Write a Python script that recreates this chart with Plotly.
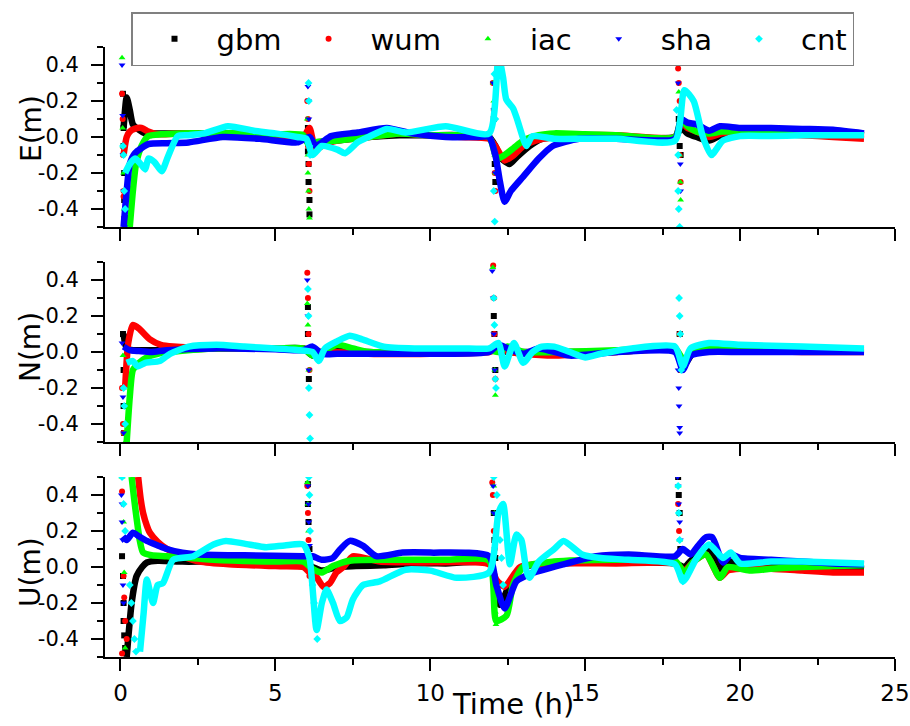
import plotly.graph_objects as go

# ---------------- data ----------------
series_names = ["gbm", "wum", "iac", "sha", "cnt"]
series_colors = ["#000000", "#ff0000", "#00ff00", "#0000ff", "#00ffff"]
series_symbols = ["square", "circle", "triangle-up", "triangle-down", "diamond"]
panel_titles = ["E(m)", "N(m)", "U(m)"]
x_label = "Time (h)"
y_tick_vals = [-0.4, -0.2, 0.0, 0.2, 0.4]
y_tick_text = ["-0.4", "-0.2", "0.0", "0.2", "0.4"]
x_tick_vals = [0, 5, 10, 15, 20, 25]
x_tick_text = ["0", "5", "10", "15", "20", "25"]

# ---- E panel: smooth tracks ----
E_gbm_x = [0.1, 0.2, 0.3, 0.4, 0.6, 0.8, 1.2, 2, 3, 4, 5, 5.9, 6.1, 6.3, 7, 8, 9, 10, 11, 11.9, 12.1, 12.3, 12.56, 12.8, 13.2, 13.6, 14.5, 16, 17.9, 18.1, 18.3, 18.6, 19.0, 19.4, 20, 21, 22, 23, 24]
E_gbm_y = [0.05, 0.22, 0.15, 0.07, 0.04, 0.02, 0.02, 0.02, 0.02, 0.01, 0.01, 0.0, -0.04, -0.03, -0.02, 0.0, 0.01, 0.01, 0.01, 0.0, -0.05, -0.12, -0.15, -0.11, -0.05, -0.01, 0.0, 0.0, 0.0, 0.05, 0.02, 0.0, -0.02, 0.01, 0.02, 0.03, 0.02, 0.02, 0.01]
E_wum_x = [0.1, 0.2, 0.3, 0.45, 0.68, 0.9, 1.2, 2, 3, 4, 5, 5.9, 6.1, 6.3, 6.6, 7, 8, 9, 10, 11, 11.9, 12.1, 12.4, 12.7, 13.0, 13.4, 14, 15, 16, 17.9, 18.1, 18.3, 18.6, 19.0, 19.4, 20, 21, 22, 23, 24]
E_wum_y = [-0.1, 0.0, 0.03, 0.045, 0.05, 0.03, 0.015, 0.02, 0.02, 0.02, 0.01, 0.0, 0.05, -0.07, -0.04, -0.02, 0.0, 0.02, 0.01, 0.0, -0.01, -0.05, -0.13, -0.1, -0.05, -0.02, 0.0, 0.01, 0.01, 0.0, 0.08, 0.05, 0.03, 0.0, 0.02, 0.03, 0.02, 0.01, 0.0, -0.01]
E_iac_x = [0.3, 0.4, 0.5, 0.68, 0.9, 1.3, 2, 3, 4, 5, 5.9, 6.1, 6.3, 7, 8, 9, 10, 11, 11.9, 12.15, 12.4, 12.7, 13.0, 13.5, 14, 15, 16, 17.9, 18.1, 18.3, 18.6, 19.0, 19.4, 20, 21, 22, 23, 24]
E_iac_y = [-0.5, -0.3, -0.15, -0.05, 0.005, 0.015, 0.02, 0.02, 0.02, 0.015, 0.01, -0.05, -0.03, -0.02, 0.0, 0.02, 0.01, 0.01, 0.0, -0.12, -0.1, -0.06, -0.02, 0.01, 0.02, 0.015, 0.01, 0.0, 0.1, 0.06, 0.03, 0.02, 0.03, 0.03, 0.03, 0.025, 0.02, 0.02]
E_sha_x = [0.1, 0.2, 0.3, 0.47, 0.9, 1.5, 2.2, 3.3, 4.5, 5.7, 6.1, 6.3, 6.5, 6.8, 7.65, 8.6, 9.4, 10.5, 11.5, 11.9, 12.1, 12.25, 12.4, 12.6, 13.0, 13.5, 13.95, 14.8, 16, 17.9, 18.1, 18.3, 18.6, 19.0, 19.35, 20, 21, 22, 23, 24]
E_sha_y = [-0.5, -0.3, -0.15, -0.09, -0.04, -0.035, -0.03, 0.0, -0.01, -0.03, 0.0, -0.05, -0.03, 0.005, 0.025, 0.05, 0.02, 0.0, 0.0, 0.0, -0.1, -0.25, -0.36, -0.3, -0.22, -0.12, -0.05, -0.01, -0.01, -0.01, 0.1, 0.08, 0.07, 0.035, 0.06, 0.05, 0.05, 0.045, 0.04, 0.02]
E_cnt_x = [0.15, 0.3, 0.47, 0.65, 0.8, 0.9, 1.1, 1.33, 1.53, 1.85, 2.2, 2.7, 3.47, 4.3, 5.0, 5.7, 6.0, 6.2, 6.5, 7.0, 7.25, 7.65, 8.0, 8.6, 9.2, 10.5, 11.9, 12.2, 12.35, 12.45, 12.67, 12.8, 13.0, 13.1, 13.3, 14, 15, 16, 17.9, 18.2, 18.5, 18.8, 19.07, 19.45, 20, 21, 22, 23, 24]
E_cnt_y = [-0.2, -0.15, -0.12, -0.15, -0.18, -0.12, -0.14, -0.19, -0.11, 0.005, 0.01, 0.02, 0.06, 0.035, 0.02, 0.0, -0.01, -0.1, -0.05, -0.07, -0.09, -0.03, 0.0, 0.045, 0.025, 0.06, 0.02, 0.45, 0.33, 0.21, 0.16, 0.1, -0.01, -0.05, 0.005, -0.01, -0.01, -0.01, -0.02, 0.26, 0.2, 0.0, -0.1, -0.02, 0.005, 0.005, 0.01, 0.01, 0.01]

# ---- E panel: re-initialisation scatter ----
E_gbm_sx = [0.08, 0.1, 0.1, 0.12, 0.12, 0.15, 6.05, 6.05, 6.07, 6.07, 6.1, 6.1, 12.05, 12.05, 12.08, 12.1, 18.02, 18.05, 18.05, 18.08]
E_gbm_sy = [0.24, 0.05, -0.05, -0.2, -0.35, -0.45, 0.05, -0.08, -0.15, -0.25, -0.35, -0.43, 0.1, -0.05, -0.15, -0.25, 0.1, 0.05, -0.05, -0.1]
E_wum_sx = [0.05, 0.07, 0.08, 0.1, 0.1, 0.12, 6.03, 6.05, 6.05, 6.08, 6.1, 12.02, 12.05, 12.05, 12.08, 12.1, 18.0, 18.02, 18.05, 18.05, 18.08]
E_wum_sy = [0.24, 0.1, -0.1, -0.3, -0.33, -0.45, 0.2, 0.1, -0.05, -0.15, -0.3, 0.3, 0.15, -0.05, -0.2, -0.3, 0.38, 0.3, 0.2, -0.1, -0.25]
E_iac_sx = [0.05, 0.07, 0.08, 0.1, 0.12, 6.03, 6.05, 6.05, 6.07, 6.08, 6.1, 12.03, 12.05, 12.08, 12.1, 18.02, 18.03, 18.05, 18.07, 18.08]
E_iac_sy = [0.44, 0.05, -0.05, -0.2, -0.4, 0.1, -0.1, -0.2, -0.3, -0.4, -0.45, 0.3, 0.2, -0.1, -0.2, 0.25, 0.15, -0.1, -0.25, -0.35]
E_sha_sx = [0.05, 0.07, 0.08, 0.1, 0.12, 0.14, 6.05, 6.07, 6.08, 6.1, 12.0, 12.03, 12.05, 12.08, 12.1, 18.0, 18.03, 18.05, 18.07, 18.08]
E_sha_sy = [0.4, 0.12, -0.1, -0.3, -0.45, -0.5, 0.28, 0.2, 0.1, 0.0, 0.42, 0.3, 0.15, -0.1, -0.2, 0.3, 0.15, 0.05, -0.15, -0.3]
E_cnt_sx = [0.08, 0.1, 0.12, 0.15, 6.05, 6.07, 6.08, 6.1, 6.12, 12.05, 12.07, 12.1, 12.05, 12.08, 17.95, 18.0, 18.0, 18.02, 18.05]
E_cnt_sy = [-0.05, -0.1, -0.3, -0.4, 0.45, 0.3, 0.2, -0.05, -0.1, 0.45, 0.35, 0.1, -0.3, -0.47, 0.15, -0.1, -0.3, -0.4, -0.5]

# ---- N panel: smooth tracks ----
N_gbm_x = [0.1, 0.2, 0.4, 0.8, 1.5, 3, 5, 5.9, 6.2, 6.5, 7, 8, 10, 11.9, 12.2, 12.5, 13, 14, 16, 17.9, 18.2, 18.5, 19, 20, 22, 24]
N_gbm_y = [0.1, 0.02, 0.01, 0.01, 0.01, 0.02, 0.02, 0.02, -0.02, 0.0, 0.01, 0.0, 0.0, 0.01, 0.02, 0.0, 0.0, 0.0, 0.0, 0.01, -0.07, 0.0, 0.01, 0.01, 0.01, 0.01]
N_wum_x = [0.15, 0.25, 0.4, 0.6, 0.95, 1.3, 1.7, 3, 5, 5.9, 6.2, 6.5, 7, 8, 10, 11.9, 12.2, 12.6, 13, 14, 16, 17.9, 18.2, 18.5, 19, 20, 22, 24]
N_wum_y = [-0.2, 0.05, 0.15, 0.13, 0.07, 0.04, 0.03, 0.02, 0.02, 0.02, 0.01, 0.0, 0.0, -0.01, -0.01, 0.0, 0.02, 0.0, -0.01, -0.02, 0.0, 0.01, -0.05, 0.01, 0.02, 0.01, 0.0, 0.0]
N_iac_x = [0.2, 0.3, 0.4, 0.6, 0.85, 1.2, 1.6, 3, 5, 5.9, 6.2, 6.5, 7, 7.5, 8, 10, 11.9, 12.2, 12.5, 13, 14, 16, 17.9, 18.2, 18.5, 19, 20, 22, 24]
N_iac_y = [-0.5, -0.25, -0.1, -0.06, -0.03, -0.01, 0.0, 0.02, 0.02, 0.02, -0.02, 0.0, 0.04, 0.02, 0.0, 0.01, 0.01, 0.0, 0.03, 0.0, 0.0, 0.01, 0.02, -0.05, 0.02, 0.02, 0.02, 0.01, 0.01]
N_sha_x = [0.1, 0.3, 0.6, 1, 1.5, 3, 5, 5.9, 6.2, 6.5, 7, 8, 10, 11.9, 12.2, 12.5, 13, 13.5, 14.5, 16, 17.9, 18.15, 18.4, 19, 20, 22, 24]
N_sha_y = [0.03, 0.01, 0.005, 0.0, 0.01, 0.02, 0.015, 0.01, 0.03, -0.01, -0.01, -0.01, -0.01, 0.0, 0.04, 0.02, -0.01, 0.02, -0.02, 0.0, 0.0, -0.1, -0.02, 0.0, 0.0, 0.0, 0.0]
N_cnt_x = [0.2, 0.4, 0.55, 0.8, 1.27, 1.6, 2.2, 3.1, 4, 5, 5.8, 6.2, 6.4, 6.6, 7.0, 7.4, 7.8, 8.5, 9.5, 11, 11.9, 12.2, 12.4, 12.7, 13.0, 13.3, 13.6, 14, 14.5, 15.0, 15.5, 16.5, 17.9, 18.15, 18.4, 19.0, 20, 22, 24]
N_cnt_y = [-0.06, -0.05, -0.08, -0.06, -0.05, -0.01, 0.03, 0.04, 0.03, 0.02, 0.01, 0.0, -0.05, 0.02, 0.06, 0.09, 0.07, 0.03, 0.02, 0.02, 0.02, 0.05, -0.08, 0.05, -0.06, 0.0, 0.03, 0.03, 0.0, -0.03, -0.01, 0.02, 0.03, -0.08, 0.02, 0.05, 0.04, 0.03, 0.02]

# ---- N panel: re-initialisation scatter ----
N_gbm_sx = [0.08, 0.1, 0.1, 0.12, 6.05, 6.05, 6.08, 12.05, 12.07, 12.1, 18.05, 18.07, 18.1]
N_gbm_sy = [0.1, -0.1, -0.3, -0.45, 0.25, 0.1, -0.15, 0.2, 0.1, -0.1, 0.1, -0.05, -0.1]
N_wum_sx = [0.05, 0.08, 0.1, 6.03, 6.05, 6.07, 6.1, 12.03, 12.05, 12.07, 12.1, 18.05, 18.08]
N_wum_sy = [-0.2, -0.4, -0.45, 0.44, 0.3, 0.1, -0.1, 0.48, 0.3, 0.1, -0.15, 0.1, -0.1]
N_iac_sx = [0.08, 0.1, 0.12, 0.15, 6.03, 6.05, 6.08, 12.02, 12.05, 12.08, 12.1, 18.05, 18.08]
N_iac_sy = [-0.02, -0.2, -0.45, -0.5, 0.27, 0.15, -0.1, 0.47, 0.3, -0.1, -0.24, 0.1, -0.05]
N_sha_sx = [0.05, 0.08, 0.1, 6.03, 6.05, 6.08, 12.0, 12.03, 12.05, 12.08, 18.0, 18.02, 18.03, 18.05, 18.05]
N_sha_sy = [0.05, -0.25, -0.45, 0.4, 0.2, -0.1, 0.45, 0.3, 0.1, -0.1, -0.1, -0.2, -0.3, -0.42, -0.45]
N_cnt_sx = [0.1, 0.12, 0.15, 6.05, 6.07, 6.08, 6.1, 6.12, 12.05, 12.07, 12.1, 12.12, 18.03, 18.05, 18.07, 18.1]
N_cnt_sy = [-0.2, -0.3, -0.4, 0.35, 0.2, -0.2, -0.35, -0.48, 0.3, 0.15, -0.15, -0.2, 0.3, 0.2, 0.1, -0.1]

# ---- U panel: smooth tracks ----
U_gbm_x = [0.2, 0.36, 0.52, 0.7, 0.85, 1.2, 2, 3, 4, 5, 5.9, 6.2, 6.5, 7, 7.6, 8.5, 9.5, 10.5, 11.9, 12.1, 12.24, 12.56, 13.0, 14, 15, 16, 17.9, 18.2, 18.5, 19.0, 19.35, 19.6, 20, 21, 22, 23, 24]
U_gbm_y = [-0.5, -0.2, -0.05, 0.0, 0.025, 0.035, 0.03, 0.03, 0.025, 0.02, 0.02, 0.0, -0.02, 0.0, 0.005, 0.01, 0.02, 0.02, 0.02, -0.1, -0.21, -0.1, 0.0, 0.02, 0.025, 0.025, 0.02, 0.0, 0.05, 0.1, -0.01, 0.03, 0.02, 0.01, 0.005, 0.0, -0.01]
U_wum_x = [0.57, 0.65, 0.73, 0.85, 0.95, 1.2, 1.5, 2, 2.56, 3.5, 5, 5.9, 6.1, 6.3, 6.55, 6.76, 6.97, 7.2, 7.5, 8.37, 9.6, 11.9, 12.13, 12.4, 12.9, 14, 16, 17.9, 18.2, 18.5, 18.9, 19.35, 19.6, 20, 21, 22, 23, 24]
U_wum_y = [0.5, 0.38, 0.3, 0.23, 0.19, 0.14, 0.1, 0.06, 0.03, 0.015, 0.005, 0.0, -0.03, -0.05, -0.11, -0.09, -0.03, 0.0, 0.06, 0.03, 0.025, 0.015, -0.07, -0.11, 0.0, 0.02, 0.02, 0.02, -0.02, 0.03, 0.07, -0.06, -0.02, -0.01, -0.01, -0.02, -0.03, -0.03]
U_iac_x = [0.36, 0.44, 0.52, 0.62, 0.73, 1.0, 1.5, 3, 5, 5.9, 6.2, 6.5, 6.86, 7.4, 9, 10.5, 11.9, 12.13, 12.46, 12.67, 13.0, 14, 16, 17.9, 18.2, 18.5, 18.9, 19.35, 19.6, 20.3, 21, 22, 23, 24]
U_iac_y = [0.5, 0.38, 0.27, 0.15, 0.08, 0.065, 0.06, 0.04, 0.03, 0.03, -0.01, -0.03, 0.005, 0.035, 0.04, 0.04, 0.035, -0.3, -0.27, -0.1, 0.0, 0.03, 0.04, 0.035, -0.03, 0.03, 0.07, -0.06, 0.0, -0.02, -0.01, 0.0, 0.005, 0.01]
U_sha_x = [0.08, 0.2, 0.4, 0.6, 0.85, 1.2, 1.5, 2, 2.56, 4, 5.9, 6.2, 6.5, 6.85, 7.1, 7.4, 7.83, 8.26, 9.1, 10, 11.9, 12.13, 12.4, 12.78, 13.2, 14.3, 15.36, 16.4, 17.9, 18.15, 18.4, 18.7, 18.9, 19.1, 19.45, 19.7, 20, 21, 22, 23, 24]
U_sha_y = [0.17, 0.15, 0.19, 0.17, 0.145, 0.12, 0.1, 0.08, 0.07, 0.065, 0.06, 0.06, 0.04, 0.05, 0.1, 0.145, 0.117, 0.06, 0.08, 0.08, 0.06, -0.1, -0.23, -0.08, -0.04, 0.015, 0.06, 0.07, 0.06, 0.1, 0.07, 0.13, 0.165, 0.165, 0.025, 0.07, 0.05, 0.04, 0.03, 0.02, 0.015]
U_cnt_x = [0.63, 0.75, 0.85, 1.05, 1.2, 1.37, 1.7, 2.35, 3.0, 3.4, 4.0, 4.7, 5.3, 5.9, 6.1, 6.33, 6.5, 6.65, 6.86, 7.08, 7.3, 7.5, 7.83, 8.37, 9.2, 10.0, 10.85, 11.9, 12.2, 12.35, 12.57, 12.78, 12.94, 13.1, 13.2, 13.5, 14.0, 14.3, 14.9, 15.5, 16.4, 17.9, 18.15, 18.26, 18.6, 19.0, 19.45, 19.7, 20.0, 21, 22, 23, 24]
U_cnt_y = [-0.47, -0.25, -0.07, -0.2, -0.1, -0.09, 0.04, 0.06, 0.125, 0.145, 0.13, 0.11, 0.12, 0.125, 0.05, -0.35, -0.2, -0.125, -0.2, -0.3, -0.28, -0.18, -0.1, -0.08, -0.015, -0.02, -0.06, -0.03, 0.3, 0.35, 0.015, 0.18, 0.15, -0.02, -0.06, 0.03, 0.1, 0.145, 0.07, 0.05, 0.04, 0.015, -0.08, -0.06, 0.05, 0.125, 0.05, 0.08, 0.02, 0.03, 0.03, 0.025, 0.02]

# ---- U panel: re-initialisation scatter ----
U_gbm_sx = [0.05, 0.08, 0.1, 0.1, 0.12, 0.15, 6.05, 6.05, 6.07, 6.1, 12.05, 12.07, 12.1, 18.0, 18.02, 18.05, 18.07]
U_gbm_sy = [0.06, -0.05, -0.2, -0.3, -0.38, -0.45, 0.46, 0.35, 0.25, 0.1, 0.3, 0.15, 0.05, 0.5, 0.4, 0.3, 0.1]
U_wum_sx = [0.05, 0.1, 0.12, 0.15, 0.2, 0.05, 6.03, 6.05, 6.07, 6.1, 12.0, 12.02, 12.05, 12.08, 18.0, 18.03, 18.05]
U_wum_sy = [0.42, -0.05, -0.17, -0.3, -0.4, -0.48, 0.45, 0.3, 0.15, -0.05, 0.47, 0.4, 0.2, 0.1, 0.35, 0.2, 0.0]
U_iac_sx = [0.05, 0.1, 0.12, 0.15, 6.03, 6.05, 6.07, 6.1, 12.05, 12.07, 12.1, 12.1, 12.12, 18.0, 18.03, 18.05, 18.08]
U_iac_sy = [0.5, 0.25, -0.03, -0.45, 0.47, 0.35, 0.2, 0.05, 0.45, 0.3, 0.15, -0.25, -0.32, 0.45, 0.3, 0.15, 0.0]
U_sha_sx = [0.03, 0.05, 0.05, 0.07, 0.08, 0.1, 6.05, 6.07, 6.08, 6.1, 12.03, 12.05, 12.08, 17.98, 18.0, 18.02, 18.05, 18.07]
U_sha_sy = [0.4, 0.35, 0.25, 0.15, -0.1, -0.2, 0.45, 0.35, 0.25, 0.12, 0.45, 0.3, 0.1, 0.5, 0.45, 0.35, 0.25, 0.15]
U_cnt_sx = [0.05, 0.1, 0.15, 0.3, 0.35, 0.4, 0.45, 0.5, 6.08, 6.1, 6.12, 6.2, 6.25, 6.3, 6.35, 12.05, 12.15, 12.2, 12.25, 12.3, 12.35, 18.0, 18.02, 18.05, 18.1, 18.15]
U_cnt_sy = [0.5, 0.35, 0.2, -0.1, -0.2, -0.3, -0.4, -0.47, 0.5, 0.4, 0.2, -0.1, -0.2, -0.3, -0.4, 0.5, 0.4, 0.3, 0.15, 0.05, -0.1, 0.45, 0.3, 0.15, -0.05, -0.08]

tracks = [
    [(E_gbm_x, E_gbm_y), (E_wum_x, E_wum_y), (E_iac_x, E_iac_y), (E_sha_x, E_sha_y), (E_cnt_x, E_cnt_y)],
    [(N_gbm_x, N_gbm_y), (N_wum_x, N_wum_y), (N_iac_x, N_iac_y), (N_sha_x, N_sha_y), (N_cnt_x, N_cnt_y)],
    [(U_gbm_x, U_gbm_y), (U_wum_x, U_wum_y), (U_iac_x, U_iac_y), (U_sha_x, U_sha_y), (U_cnt_x, U_cnt_y)],
]
spikes = [
    [(E_gbm_sx, E_gbm_sy), (E_wum_sx, E_wum_sy), (E_iac_sx, E_iac_sy), (E_sha_sx, E_sha_sy), (E_cnt_sx, E_cnt_sy)],
    [(N_gbm_sx, N_gbm_sy), (N_wum_sx, N_wum_sy), (N_iac_sx, N_iac_sy), (N_sha_sx, N_sha_sy), (N_cnt_sx, N_cnt_sy)],
    [(U_gbm_sx, U_gbm_sy), (U_wum_sx, U_wum_sy), (U_iac_sx, U_iac_sy), (U_sha_sx, U_sha_sy), (U_cnt_sx, U_cnt_sy)],
]

# ---------------- figure ----------------
FONT = "DejaVu Sans"
W, H = 910, 726
ML, MR, MT, MB = 105, 15, 47, 69
plot_h = H - MT - MB
plot_w = W - ML - MR
domains = [[430 / plot_h, 1.0], [215 / plot_h, 395 / plot_h], [0.0, 180 / plot_h]]

fig = go.Figure()
for p in range(3):
    xa = "x" if p == 0 else f"x{p+1}"
    ya = "y" if p == 0 else f"y{p+1}"
    for s in range(5):
        tx, ty = tracks[p][s]
        fig.add_trace(go.Scatter(
            x=tx, y=ty, mode="lines", xaxis=xa, yaxis=ya,
            line=dict(color=series_colors[s], width=6.5, shape="spline", smoothing=0.6),
            showlegend=False, hoverinfo="skip", legendgroup=series_names[s]))
        sx, sy = spikes[p][s]
        fig.add_trace(go.Scatter(
            x=sx, y=sy, mode="markers", xaxis=xa, yaxis=ya,
            name=series_names[s], legendgroup=series_names[s],
            marker=dict(color=series_colors[s], symbol=series_symbols[s], size=6),
            showlegend=(p == 0)))

axis_common = dict(
    showline=True, linecolor="black", linewidth=2, mirror=False,
    ticks="outside", ticklen=12, tickwidth=2, tickcolor="black",
    showgrid=False, zeroline=False, automargin=False,
)
layout = dict(
    width=W, height=H,
    margin=dict(l=ML, r=MR, t=MT, b=MB, autoexpand=False),
    paper_bgcolor="white", plot_bgcolor="white",
    font=dict(family=FONT, color="black"),
    showlegend=True,
    legend=dict(
        orientation="h", x=(131 - ML) / plot_w, y=(H - MB - 12) / plot_h,
        xanchor="left", yanchor="top",
        bgcolor="white", bordercolor="#808080", borderwidth=1.5,
        font=dict(family=FONT, size=29, color="black"),
        itemwidth=74, traceorder="normal",
    ),
)
for p in range(3):
    xk = "xaxis" if p == 0 else f"xaxis{p+1}"
    yk = "yaxis" if p == 0 else f"yaxis{p+1}"
    ya = "y" if p == 0 else f"y{p+1}"
    xa = "x" if p == 0 else f"x{p+1}"
    layout[xk] = dict(
        axis_common, range=[-0.5, 25], anchor=ya, domain=[0, 1],
        tickmode="array", tickvals=x_tick_vals, ticktext=x_tick_text,
        showticklabels=(p == 2),
        tickfont=dict(family=FONT, size=23),
        ticklabelstandoff=2,
        minor=dict(dtick=2.5, tick0=0, ticklen=6, tickwidth=2, tickcolor="black", ticks="outside"),
    )
    layout[yk] = dict(
        axis_common, range=[-0.5, 0.5], anchor=xa, domain=domains[p],
        tickmode="array", tickvals=y_tick_vals, ticktext=y_tick_text,
        tickfont=dict(family=FONT, size=21),
        ticklabelstandoff=8,
        minor=dict(dtick=0.1, tick0=0, ticklen=6, tickwidth=2, tickcolor="black", ticks="outside"),
    )
fig.update_layout(**layout)

title_centers_px = [(31, 129), (30, 347), (30, 572)]
for p in range(3):
    cx, cy = title_centers_px[p]
    fig.add_annotation(
        text=panel_titles[p], xref="paper", yref="paper",
        x=(cx - ML) / plot_w, y=(H - MB - cy) / plot_h,
        xanchor="center", yanchor="middle", textangle=-90, showarrow=False,
        font=dict(family=FONT, size=28, color="black"))
fig.add_annotation(
    text=x_label, xref="paper", yref="paper",
    x=(513 - ML) / plot_w, y=(H - MB - 704) / plot_h,
    xanchor="center", yanchor="middle", showarrow=False,
    font=dict(family=FONT, size=29, color="black"))

fig.write_html(
    "out.html",
    config={"displayModeBar": False},
    post_script="document.body.style.margin='0px';document.body.style.overflow='hidden';",
)
